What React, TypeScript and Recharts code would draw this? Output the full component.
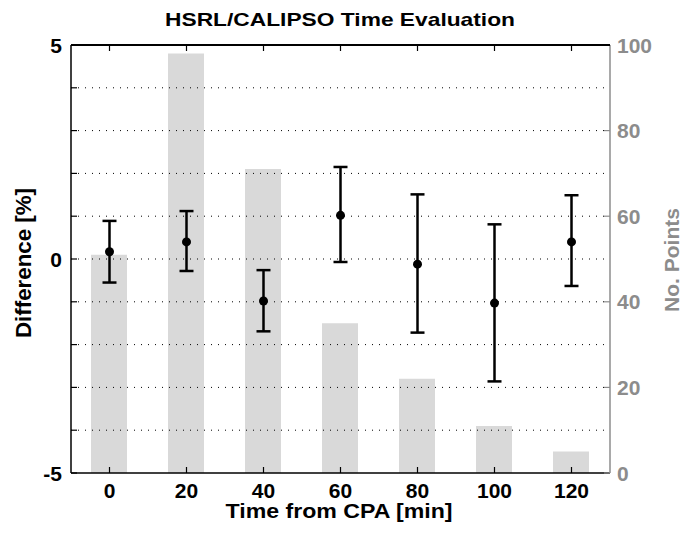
import React from "react";
import {
  ComposedChart,
  Bar,
  Scatter,
  ErrorBar,
  XAxis,
  YAxis,
  ReferenceLine,
  Label,
} from "recharts";

const times = [0, 20, 40, 60, 80, 100, 120];
const counts = [51, 98, 71, 35, 22, 11, 5];
const diffs = [0.17, 0.4, -0.98, 1.02, -0.12, -1.03, 0.4];
const errLow = [0.72, 0.68, 0.71, 1.09, 1.6, 1.83, 1.03];
const errHigh = [0.72, 0.72, 0.72, 1.13, 1.63, 1.84, 1.09];

const xTicks = [0, 20, 40, 60, 80, 100, 120];
const leftTicks = [-5, -4, -3, -2, -1, 0, 1, 2, 3, 4, 5];
const leftLabeled = [-5, 0, 5];
const rightTicks = [0, 20, 40, 60, 80, 100];
const gridLines = [-4, -3, -2, -1, 0, 1, 2, 3, 4];

const data = times.map((t, i) => ({
  time: t,
  count: counts[i],
  diff: diffs[i],
  err: [errLow[i], errHigh[i]],
}));

const FONT = "'Liberation Sans', Arial, Helvetica, sans-serif";
const GRAY = "#8c8c8c";
const TICK = 6;
const PLOT_H = 534 - 45 - 61;

function BottomTick(props: any) {
  const { x, y, payload } = props;
  const top = y - PLOT_H;
  return (
    <g>
      <line x1={x} y1={y} x2={x} y2={y - TICK} stroke="#000" strokeWidth={1.2} />
      <line x1={x} y1={top} x2={x} y2={top + TICK} stroke="#000" strokeWidth={1.2} />
      <text x={x} y={y + 25} textAnchor="middle" fontFamily={FONT} fontWeight="bold" fontSize={21} fill="#000">
        {payload.value}
      </text>
    </g>
  );
}

function LeftTick(props: any) {
  const { x, y, payload } = props;
  const show = leftLabeled.includes(payload.value);
  return (
    <g>
      <line x1={x} y1={y} x2={x + TICK} y2={y} stroke="#000" strokeWidth={1.2} />
      {show && (
        <text x={x - 9} y={y} dy="0.36em" textAnchor="end" fontFamily={FONT} fontWeight="bold" fontSize={21} fill="#000">
          {payload.value}
        </text>
      )}
    </g>
  );
}

function RightTick(props: any) {
  const { x, y, payload } = props;
  return (
    <g>
      <line x1={x} y1={y} x2={x - TICK} y2={y} stroke={GRAY} strokeWidth={1.2} />
      <text x={x + 7} y={y} dy="0.36em" textAnchor="start" fontFamily={FONT} fontWeight="bold" fontSize={21} fill={GRAY}>
        {payload.value}
      </text>
    </g>
  );
}

function Dot(props: any) {
  return <circle cx={props.cx} cy={props.cy} r={4.5} fill="#000" />;
}

export default function App() {
  return (
    <div style={{ position: "absolute", left: 0, top: 0, width: 682, height: 534, background: "#fff" }}>
      <ComposedChart width={682} height={534} data={data} margin={{ top: 45, right: 0, bottom: 0, left: 0 }}>
        <XAxis
          xAxisId="bottom"
          dataKey="time"
          type="number"
          domain={[-10, 130]}
          ticks={xTicks}
          height={61}
          tickSize={0}
          tickMargin={0}
          tickLine={false}
          tick={<BottomTick />}
          axisLine={{ stroke: "#000", strokeWidth: 1.5 }}
          interval={0}
        >
          <Label
            content={() => (
              <text
                x={339}
                y={518}
                textAnchor="middle"
                textLength={227}
                lengthAdjust="spacingAndGlyphs"
                fontFamily={FONT}
                fontWeight="bold"
                fontSize={21}
                fill="#000"
              >
                Time from CPA [min]
              </text>
            )}
          />
        </XAxis>
        <YAxis
          yAxisId="left"
          orientation="left"
          type="number"
          domain={[-5, 5]}
          ticks={leftTicks}
          width={71}
          tickSize={0}
          tickMargin={0}
          tickLine={false}
          tick={<LeftTick />}
          axisLine={{ stroke: "#000", strokeWidth: 1.5 }}
          interval={0}
        >
          <Label
            content={() => (
              <text
                x={31}
                y={263}
                transform="rotate(-90 31 263)"
                textAnchor="middle"
                textLength={150}
                lengthAdjust="spacingAndGlyphs"
                fontFamily={FONT}
                fontWeight="bold"
                fontSize={22}
                fill="#000"
              >
                Difference [%]
              </text>
            )}
          />
        </YAxis>
        <YAxis
          yAxisId="right"
          orientation="right"
          type="number"
          domain={[0, 100]}
          ticks={rightTicks}
          width={72}
          tickSize={0}
          tickMargin={0}
          tickLine={false}
          tick={<RightTick />}
          axisLine={{ stroke: GRAY, strokeWidth: 1.5 }}
          interval={0}
        >
          <Label
            content={() => (
              <text
                x={679}
                y={260}
                transform="rotate(-90 679 260)"
                textAnchor="middle"
                textLength={104}
                lengthAdjust="spacingAndGlyphs"
                fontFamily={FONT}
                fontWeight="bold"
                fontSize={20}
                fill={GRAY}
              >
                No. Points
              </text>
            )}
          />
        </YAxis>
        <Bar
          dataKey="count"
          xAxisId="bottom"
          yAxisId="right"
          fill="#d9d9d9"
          barSize={36}
          isAnimationActive={false}
        />
        {gridLines.map((v) => (
          <ReferenceLine
            key={v}
            y={v}
            xAxisId="bottom"
            yAxisId="left"
            stroke="#000"
            strokeWidth={1}
            strokeDasharray="1 6"
          />
        ))}
        <ReferenceLine y={5} xAxisId="bottom" yAxisId="left" stroke="none" ifOverflow="visible">
          <Label
            content={() => (
              <text
                x={340}
                y={26}
                textAnchor="middle"
                textLength={350}
                lengthAdjust="spacingAndGlyphs"
                fontFamily={FONT}
                fontWeight="bold"
                fontSize={18.5}
                fill="#000"
              >
                HSRL/CALIPSO Time Evaluation
              </text>
            )}
          />
        </ReferenceLine>
        <Scatter
          dataKey="diff"
          xAxisId="bottom"
          yAxisId="left"
          fill="#000"
          shape={<Dot />}
          isAnimationActive={false}
        >
          <ErrorBar dataKey="err" direction="y" width={7} stroke="#000" strokeWidth={2.5} />
        </Scatter>
      </ComposedChart>
      {/* top frame of the plot box */}
      <div
        style={{
          position: "absolute",
          left: 71,
          top: 44,
          width: 539,
          height: 2,
          background: "#000",
          pointerEvents: "none",
        }}
      />
    </div>
  );
}
